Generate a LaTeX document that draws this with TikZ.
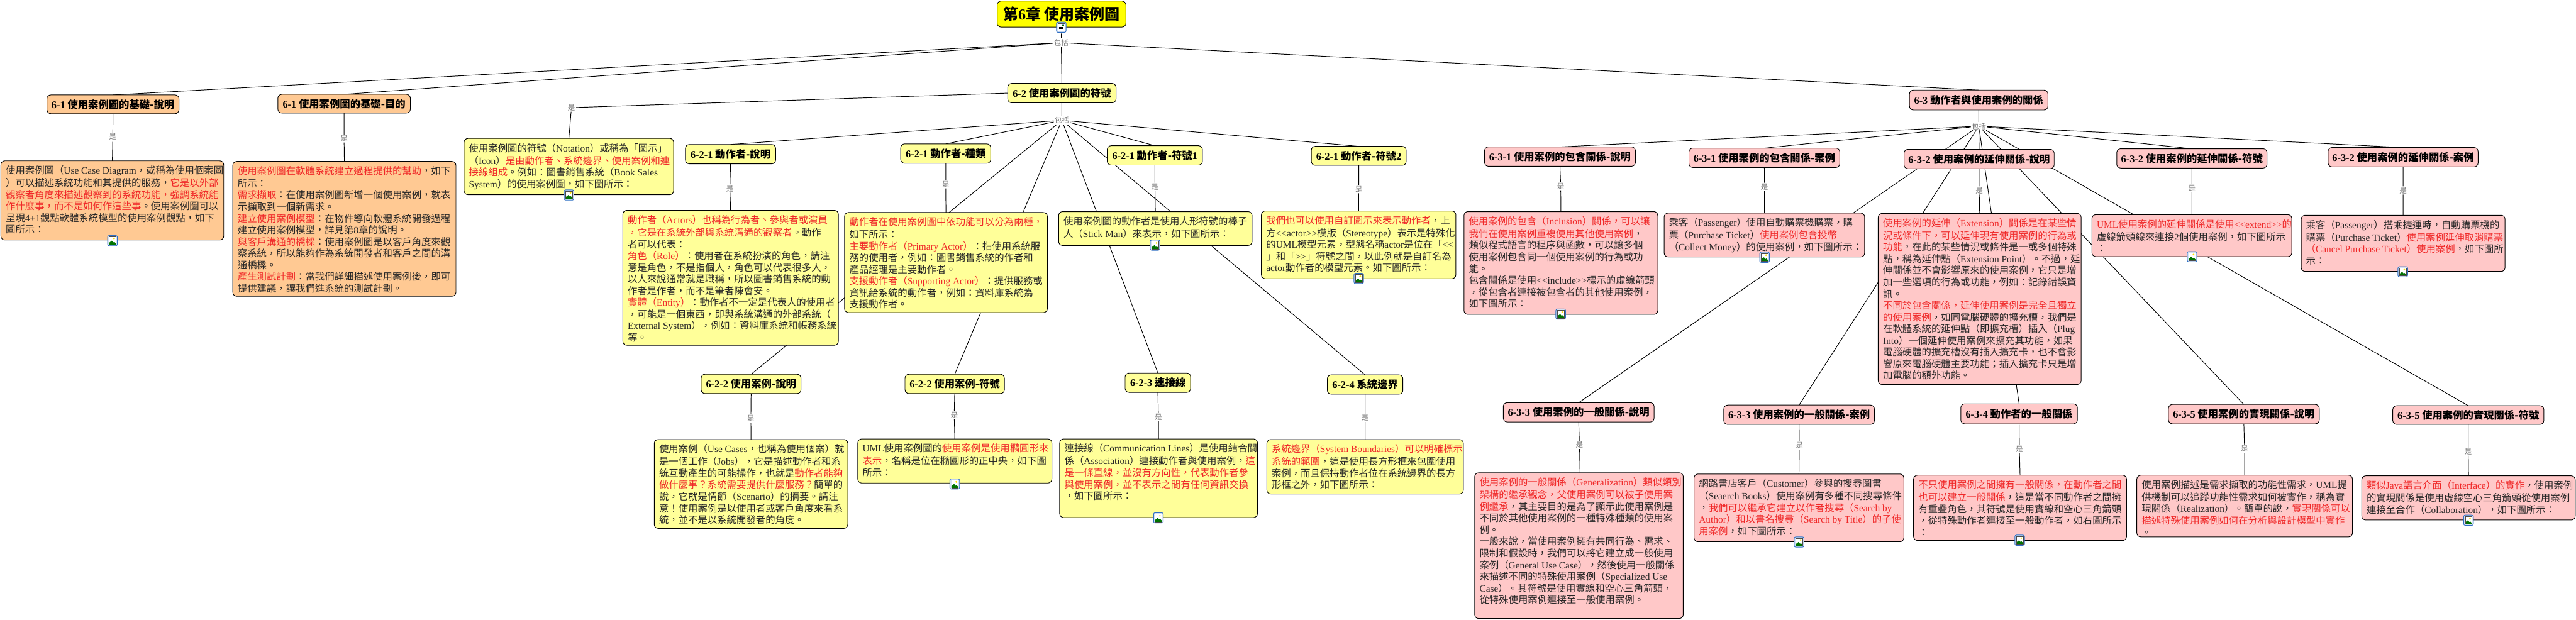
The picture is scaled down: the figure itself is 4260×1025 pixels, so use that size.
\documentclass[tikz,border=0pt]{standalone}
\usepackage{fontspec}
\setmainfont{Noto Sans CJK TC}
\newfontfamily\latinfam{Liberation Serif}
\definecolor{cOrange}{HTML}{FFC993}
\definecolor{cYellow}{HTML}{FFFF99}
\definecolor{cPink}{HTML}{FFC8C8}
\definecolor{cRoot}{HTML}{FFFF00}
\definecolor{cRed}{HTML}{F02828}
\definecolor{cTxt}{HTML}{262626}
\definecolor{cLbl}{HTML}{777777}
\definecolor{cIcon}{HTML}{2F6FC4}
\newcommand{\enf}[1]{{\latinfam #1}}
\newcommand{\rd}[1]{\textcolor{cRed}{#1}}
\newcommand{\bodyset}{\fontsize{16pt}{19.3pt}\selectfont\color{cTxt}\parindent0pt\rightskip=-150pt plus 1fil\relax\leavevmode}
\tikzset{
  conn/.style={draw=black,line width=1pt},
  boxbase/.style={draw=black,line width=1pt,rounded corners=6.5pt},
  bodybox/.style={boxbase,inner sep=8pt,outer sep=0pt},
  titlebox/.style={boxbase,inner sep=0pt,outer sep=0pt,font=\fontsize{17pt}{19pt}\selectfont\bfseries,text=black},
  lblnode/.style={fill=white,text=cLbl,inner sep=1.2pt,font=\fontsize{12pt}{13pt}\selectfont},
  iconbox/.style={draw=cIcon,line width=1pt,fill=cIcon!20,rounded corners=2.5pt,minimum width=16pt,minimum height=17pt,inner sep=0pt}
}
% name, x1, y1, x2, y2, colour, text
\newcommand{\bodyn}[7]{\node[bodybox,fill=#6,anchor=north west] (#1) at (#2,#3) {\parbox[c][\dimexpr #5pt-#3pt-16pt\relax][t]{\dimexpr #4pt-#2pt-16pt\relax}{\bodyset\vspace*{1.5pt}\leavevmode #7}};}
\newcommand{\titlen}[7]{\node[titlebox,fill=#6,anchor=north west,minimum width={(#4-#2)*1pt},minimum height={(#5-#3)*1pt}] (#1) at (#2,#3) {#7};}
\newcommand{\lbln}[4]{\node[lblnode] (#1) at (#2,#3) {#4};}
\newcommand{\imgicon}[3]{%
  \node[iconbox] (#1) at (#2,#3) {};
  \begin{scope}[shift={(#2,#3)}]
    \fill[white] (-5.5,-6.5) rectangle (5.5,6.5);
    \fill[green!45!black] (-5.5,6.5) -- (-5.5,3.5) -- (-1,0) -- (1.5,3) -- (3,2) -- (5.5,4.5) -- (5.5,6.5) -- cycle;
    \fill[yellow!85!orange] (2.5,-3.5) circle (1.6);
    \draw[black!70,line width=0.5pt] (-5.5,-6.5) rectangle (5.5,6.5);
  \end{scope}}
\newcommand{\docicon}[3]{%
  \node[iconbox] (#1) at (#2,#3) {};
  \begin{scope}[shift={(#2,#3)}]
    \fill[white] (-5.5,-6.5) rectangle (5.5,6.5);
    \draw[black!70,line width=0.5pt] (-5.5,-6.5) rectangle (5.5,6.5);
    \fill[green!45!black] (0.5,-5.5) rectangle (4.5,-1.5);
    \fill[cIcon!60] (0.5,-5.5) rectangle (4.5,-3.5);
    \draw[black,line width=0.9pt] (-4,-4) -- (-0.5,-4) (-4,-1.8) -- (-0.5,-1.8) (-4,0.6) -- (4,0.6) (-4,2.6) -- (4,2.6) (-4,4.6) -- (4,4.6);
  \end{scope}}
\pgfdeclarelayer{edges}
\pgfsetlayers{edges,main}
\begin{document}
\begin{tikzpicture}[x=1pt,y=-1pt]
\useasboundingbox (0,0) rectangle (4260,1025);

% ---------- root
\node[boxbase,fill=cRoot,anchor=north west,inner sep=0pt,minimum width=213pt,minimum height=43pt,font=\fontsize{25pt}{27pt}\selectfont\bfseries] (root) at (1648.5,1.3) {\raisebox{3pt}{第\enf{6}章 使用案例圖}};
\docicon{iroot}{1755}{45}
\lbln{lRoot}{1755}{70.7}{包括}

% ---------- 6-1
\titlen{tA}{77.6}{157}{296}{188}{cOrange}{\enf{6-1} 使用案例圖的基礎-說明}
\lbln{lA}{186.6}{226}{是}
\bodyn{bA}{1.5}{266}{370}{397}{cOrange}{使用案例圖（\enf{Use Case Diagram}，或稱為使用個案圖\\
）可以描述系統功能和其提供的服務，\rd{它是以外部}\\
\rd{觀察者角度來描述觀察到的系統功能，強調系統能}\\
\rd{作什麼事，而不是如何作這些事}。使用案例圖可以\\
呈現\enf{4+1}觀點軟體系統模型的使用案例觀點，如下\\
圖所示：}
\imgicon{iA}{186}{398}

\titlen{tB}{459.5}{156}{678.6}{187}{cOrange}{\enf{6-1} 使用案例圖的基礎-目的}
\lbln{lB}{569}{229}{是}
\bodyn{bB}{385}{267}{754}{490}{cOrange}{\rd{使用案例圖在軟體系統建立過程提供的幫助}，如下\\
所示：\\
\rd{需求擷取}：在使用案例圖新增一個使用案例，就表\\
示擷取到一個新需求。\\
\rd{建立使用案例模型}：在物件導向軟體系統開發過程\\
建立使用案例模型，詳見第\enf{8}章的說明。\\
\rd{與客戶溝通的橋樑}：使用案例圖是以客戶角度來觀\\
察系統，所以能夠作為系統開發者和客戶之間的溝\\
通橋樑。\\
\rd{產生測試計劃}：當我們詳細描述使用案例後，即可\\
提供建議，讓我們進系統的測試計劃。}

% ---------- 6-2
\titlen{tC}{1666.5}{138}{1845.6}{170}{cYellow}{\enf{6-2} 使用案例圖的符號}
\lbln{lC}{1756}{199}{包括}
\lbln{lN}{945}{178}{是}
\bodyn{bN}{767.5}{229}{1114}{322}{cYellow}{使用案例圖的符號（\enf{Notation}）或稱為「圖示」\\
（\enf{Icon}）\rd{是由動作者、系統邊界、使用案例和連}\\
\rd{接線組成}。例如：圖書銷售系統（\enf{Book Sales}\\
\enf{System}）的使用案例圖，如下圖所示：}
\imgicon{iN}{941}{322.5}

\titlen{tDa}{1133.5}{239}{1282.7}{271}{cYellow}{\enf{6-2-1} 動作者-說明}
\lbln{lDa}{1207}{312}{是}
\bodyn{bDa}{1030}{348}{1386.5}{571}{cYellow}{\rd{動作者（\enf{Actors}）也稱為行為者、參與者或演員}\\
\rd{，它是在系統外部與系統溝通的觀察者}。動作\\
者可以代表：\\
\rd{角色（\enf{Role}）}：使用者在系統扮演的角色，請注\\
意是角色，不是指個人，角色可以代表很多人，\\
以人來說通常就是職稱，所以圖書銷售系統的動\\
作者是作者，而不是筆者陳會安。\\
\rd{實體（\enf{Entity}）}：動作者不一定是代表人的使用者\\
，可能是一個東西，即與系統溝通的外部系統（\\
\enf{External System}），例如：資料庫系統和帳務系統\\
等。}

\titlen{tDb}{1489.5}{238}{1638.5}{270}{cYellow}{\enf{6-2-1} 動作者-種類}
\lbln{lDb}{1564}{305}{是}
\bodyn{bDb}{1396.6}{351.5}{1732}{517}{cYellow}{\rd{動作者在使用案例圖中依功能可以分為兩種，}\\
如下所示：\\
\rd{主要動作者（\enf{Primary Actor}）}：指使用系統服\\
務的使用者，例如：圖書銷售系統的作者和\\
產品經理是主要動作者。\\
\rd{支援動作者（\enf{Supporting Actor}）}：提供服務或\\
資訊給系統的動作者，例如：資料庫系統為\\
支援動作者。}

\titlen{tDc}{1831}{241}{1988.5}{273}{cYellow}{\enf{6-2-1} 動作者-符號\enf{1}}
\lbln{lDc}{1910}{309}{是}
\bodyn{bDc}{1750.7}{350}{2070.6}{406}{cYellow}{使用案例圖的動作者是使用人形符號的棒子\\
人（\enf{Stick Man}）來表示，如下圖所示：}
\imgicon{iDc}{1910}{405.5}

\titlen{tDd}{2168.6}{242}{2325.4}{273.5}{cYellow}{\enf{6-2-1} 動作者-符號\enf{2}}
\lbln{lDd}{2247}{313}{是}
\bodyn{bDd}{2086}{349}{2407.6}{461}{cYellow}{\rd{我們也可以使用自訂圖示來表示動作者}，上\\
方\enf{<}\enf{<actor>}\enf{>}模版（\enf{Stereotype}）表示是特殊化\\
的\enf{UML}模型元素，型態名稱\enf{actor}是位在「\enf{<}\enf{<}\\
」和「\enf{>}\enf{>}」符號之間，以此例就是自訂名為\\
\enf{actor}動作者的模型元素。如下圖所示：}
\imgicon{iDd}{2247}{460.5}

\titlen{tEa}{1159.5}{619}{1324.7}{651}{cYellow}{\enf{6-2-2} 使用案例-說明}
\lbln{lEa}{1241.7}{692}{是}
\bodyn{bEa}{1082}{727}{1402}{874}{cYellow}{使用案例（\enf{Use Cases}，也稱為使用個案）就\\
是一個工作（\enf{Jobs}），它是描述動作者和系\\
統互動產生的可能操作，也就是\rd{動作者能夠}\\
\rd{做什麼事？系統需要提供什麼服務？}簡單的\\
說，它就是情節（\enf{Scenario}）的摘要。請注\\
意！使用案例是以使用者或客戶角度來看系\\
統，並不是以系統開發者的角度。}

\titlen{tEb}{1496.6}{619}{1661}{651}{cYellow}{\enf{6-2-2} 使用案例-符號}
\lbln{lEb}{1578}{687}{是}
\bodyn{bEb}{1418.5}{726}{1739.5}{799}{cYellow}{\enf{UML}使用案例圖的\rd{使用案例是使用橢圓形來}\\
\rd{表示}，名稱是位在橢圓形的正中央，如下圖\\
所示：}
\imgicon{iEb}{1578.8}{800.5}

\titlen{tEc}{1860.6}{617}{1969}{649}{cYellow}{\enf{6-2-3} 連接線}
\lbln{lEc}{1915.7}{690}{是}
\bodyn{bEc}{1752.4}{726}{2079.5}{856}{cYellow}{連接線（\enf{Communication Lines}）是使用結合關\\
係（\enf{Association}）連接動作者與使用案例，\rd{這}\\
\rd{是一條直線，並沒有方向性，代表動作者參}\\
\rd{與使用案例，並不表示之間有任何資訊交換}\\
，如下圖所示：}
\imgicon{iEc}{1915.7}{856.5}

\titlen{tEd}{2195}{620}{2320}{652}{cYellow}{\enf{6-2-4} 系統邊界}
\lbln{lEd}{2257.6}{691}{是}
\bodyn{bEd}{2095}{727}{2420}{817}{cYellow}{\rd{系統邊界（\enf{System Boundaries}）可以明確標示}\\
\rd{系統的範圍}，這是使用長方形框來包圍使用\\
案例，而且保持動作者位在系統邊界的長方\\
形框之外，如下圖所示：}

% ---------- 6-3
\titlen{tF}{3157.7}{149}{3386.7}{182}{cPink}{\enf{6-3} 動作者與使用案例的關係}
\lbln{lF}{3272.4}{208.7}{包括}

\titlen{tGa}{2455}{243}{2704.5}{275}{cPink}{\enf{6-3-1} 使用案例的包含關係-說明}
\lbln{lGa}{2581}{308}{是}
\bodyn{bGa}{2421}{350}{2741.5}{520}{cPink}{\rd{使用案例的包含（\enf{Inclusion}）關係，可以讓}\\
\rd{我們在使用案例重複使用其他使用案例}，\\
類似程式語言的程序與函數，可以讓多個\\
使用案例包含同一個使用案例的行為或功\\
能。\\
包含關係是使用\enf{<}\enf{<include>}\enf{>}標示的虛線箭頭\\
，從包含者連接被包含者的其他使用案例，\\
如下圖所示：}
\imgicon{iGa}{2581}{519.5}

\titlen{tGb}{2793}{245}{3042.5}{277}{cPink}{\enf{6-3-1} 使用案例的包含關係-案例}
\lbln{lGb}{2918}{309}{是}
\bodyn{bGb}{2752}{352.5}{3083.6}{425}{cPink}{乘客（\enf{Passenger}）使用自動購票機購票，購\\
票（\enf{Purchase Ticket}）\rd{使用案例包含投幣}\\
（\enf{Collect Money}）的使用案例，如下圖所示：}
\imgicon{iGb}{2918}{425.5}

\titlen{tGc}{3148.7}{247}{3397}{279}{cPink}{\enf{6-3-2} 使用案例的延伸關係-說明}
\lbln{lGc}{3273}{315}{是}
\bodyn{bGc}{3106}{353}{3441.6}{636}{cPink}{\rd{使用案例的延伸（\enf{Extension}）關係是在某些情}\\
\rd{況或條件下，可以延伸現有使用案例的行為或}\\
\rd{功能}，在此的某些情況或條件是一或多個特殊\\
點，稱為延伸點（\enf{Extension Point}）。不過，延\\
伸關係並不會影響原來的使用案例，它只是增\\
加一些選項的行為或功能，例如：記錄錯誤資\\
訊。\\
\rd{不同於包含關係，延伸使用案例是完全且獨立}\\
\rd{的使用案例}，如同電腦硬體的擴充槽，我們是\\
在軟體系統的延伸點（即擴充槽）插入（\enf{Plug}\\
\enf{ Into}）一個延伸使用案例來擴充其功能，如果\\
電腦硬體的擴充槽沒有插入擴充卡，也不會影\\
響原來電腦硬體主要功能；插入擴充卡只是增\\
加電腦的額外功能。}

\titlen{tGd}{3500.5}{246}{3749}{278}{cPink}{\enf{6-3-2} 使用案例的延伸關係-符號}
\lbln{lGd}{3625}{311}{是}
\bodyn{bGd}{3459.5}{355}{3790}{424.5}{cPink}{\rd{\enf{UML}使用案例的延伸關係是使用\enf{<}\enf{<extend>}\enf{>}的}\\
虛線箭頭線來連接\enf{2}個使用案例，如下圖所示\\
：}
\imgicon{iGd}{3625}{424.5}

\titlen{tGe}{3850}{244}{4098}{276}{cPink}{\enf{6-3-2} 使用案例的延伸關係-案例}
\lbln{lGe}{3974}{315}{是}
\bodyn{bGe}{3805.5}{356}{4142.6}{449}{cPink}{乘客（\enf{Passenger}）搭乘捷運時，自動購票機的\\
購票（\enf{Purchase Ticket}）\rd{使用案例延伸取消購票}\\
\rd{（\enf{Cancel Purchase Ticket}）使用案例}，如下圖所\\
示：}
\imgicon{iGe}{3973.5}{449.5}

\titlen{tHa}{2486}{666}{2735.4}{698}{cPink}{\enf{6-3-3} 使用案例的一般關係-說明}
\lbln{lHa}{2612}{736}{是}
\bodyn{bHa}{2438.7}{782}{2783.6}{1023}{cPink}{\rd{使用案例的一般關係（\enf{Generalization}）類似類別}\\
\rd{架構的繼承觀念，父使用案例可以被子使用案}\\
\rd{例繼承}，其主要目的是為了顯示此使用案例是\\
不同於其他使用案例的一種特殊種類的使用案\\
例。\\
一般來說，當使用案例擁有共同行為、需求、\\
限制和假設時，我們可以將它建立成一般使用\\
案例（\enf{General Use Case}），然後使用一般關係\\
來描述不同的特殊使用案例（\enf{Specialized Use}\\
\enf{Case}）。其符號是使用實線和空心三角箭頭，\\
從特殊使用案例連接至一般使用案例。}

\titlen{tHb}{2850.6}{670}{3099.7}{702}{cPink}{\enf{6-3-3} 使用案例的一般關係-案例}
\lbln{lHb}{2975.6}{737}{是}
\bodyn{bHb}{2801.5}{784}{3148.4}{896}{cPink}{網路書店客戶（\enf{Customer}）參與的搜尋圖書\\
（\enf{Seaerch Books}）使用案例有多種不同搜尋條件\\
，\rd{我們可以繼承它建立以作者搜尋（\enf{Search by}}\\
\rd{\enf{Author}）和以書名搜尋（\enf{Search by Title}）的子使}\\
\rd{用案例}，如下圖所示：}
\imgicon{iHb}{2975.2}{896.5}

\titlen{tHc}{3242.6}{668}{3435.4}{701}{cPink}{\enf{6-3-4} 動作者的一般關係}
\lbln{lHc}{3339.5}{743}{是}
\bodyn{bHc}{3164.5}{786}{3516.7}{894}{cPink}{\rd{不只使用案例之間擁有一般關係，在動作者之間}\\
\rd{也可以建立一般關係}，這是當不同動作者之間擁\\
有重疊角色，其符號是使用實線和空心三角箭頭\\
，從特殊動作者連接至一般動作者，如右圖所示\\
：}
\imgicon{iHc}{3340}{893.5}

\titlen{tHd}{3586}{669}{3835.4}{701}{cPink}{\enf{6-3-5} 使用案例的實現關係-說明}
\lbln{lHd}{3711.8}{742}{是}
\bodyn{bHd}{3533.7}{786}{3890.3}{888}{cPink}{使用案例描述是需求擷取的功能性需求，\enf{UML}提\\
供機制可以追蹤功能性需求如何被實作，稱為實\\
現關係（\enf{Realization}）。簡單的說，\rd{實現關係可以}\\
\rd{描述特殊使用案例如何在分析與設計模型中實作}\\
。}

\titlen{tHe}{3957}{671}{4206.7}{702}{cPink}{\enf{6-3-5} 使用案例的實現關係-符號}
\lbln{lHe}{4081.7}{747}{是}
\bodyn{bHe}{3905.7}{787}{4258.7}{860}{cPink}{\rd{類似\enf{Java}語言介面（\enf{Interface}）的實作}，使用案例\\
的實現關係是使用虛線空心三角箭頭從使用案例\\
連接至合作（\enf{Collaboration}），如下圖所示：}
\imgicon{iHe}{4082.2}{860.5}

% ---------- connectors (drawn under the boxes)
\begin{pgfonlayer}{edges}
  \draw[conn] (root.south) -- (lRoot);
  \foreach \c in {tA,tB,tC,tF} {\draw[conn] (lRoot) -- (\c.north);}
  \draw[conn] (tC.south) -- (lC);
  \draw[conn] (tF.south) -- (lF);
  \draw[conn] (tC.west) -- (lN) -- (bN.north);
  \foreach \c in {tDa,tDb,tDc,tDd,tEa,tEb,tEc,tEd} {\draw[conn] (lC) -- (\c.north);}
  \foreach \c in {tGa,tGb,tGc,tGd,tGe,tHa,tHb,tHc,tHd,tHe} {\draw[conn] (lF) -- (\c.north);}
  \foreach \t/\l/\b in {tA/lA/bA,tB/lB/bB,tDa/lDa/bDa,tDb/lDb/bDb,tDc/lDc/bDc,tDd/lDd/bDd,
    tEa/lEa/bEa,tEb/lEb/bEb,tEc/lEc/bEc,tEd/lEd/bEd,
    tGa/lGa/bGa,tGb/lGb/bGb,tGc/lGc/bGc,tGd/lGd/bGd,tGe/lGe/bGe,
    tHa/lHa/bHa,tHb/lHb/bHb,tHc/lHc/bHc,tHd/lHd/bHd,tHe/lHe/bHe}
    {\draw[conn] (\t.south) -- (\l) -- (\b.north);}
\end{pgfonlayer}
\end{tikzpicture}
\end{document}
